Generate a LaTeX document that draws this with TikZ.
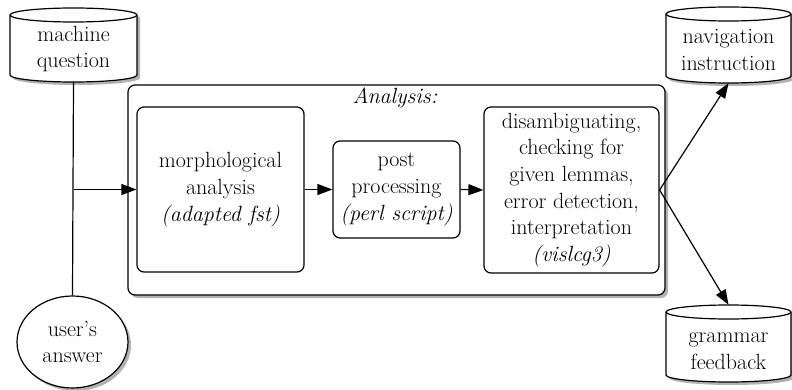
\documentclass[tikz,border=0pt]{standalone}
\usetikzlibrary{shadows,arrows.meta,shapes.geometric}
\newcommand\mycyl[5]{% cx, top centre y, bottom centre y, rx, ry
  \path[cylbody] (#1-#4,#2) -- (#1-#4,#3) arc[start angle=180,end angle=0,x radius=#4,y radius=#5]
     -- (#1+#4,#2) arc[start angle=0,end angle=-180,x radius=#4,y radius=#5] -- cycle;
  \draw[thinline] (#1-#4,#2) arc[start angle=180,end angle=0,x radius=#4,y radius=#5];
}
\tikzset{
  thinline/.style={line width=1.2pt},
  shad/.style={drop shadow={shadow xshift=3pt,shadow yshift=-3pt,opacity=0.3,fill=black}},
  cylbody/.style={thinline,draw,fill=white,shad},
  txt/.style={align=center,inner sep=0pt,font=\fontsize{22}{26.7}\selectfont},
  cyltext/.style={txt,minimum width=125pt,minimum height=66pt},
  procbox/.style={txt,draw,thinline,rounded corners=7pt,fill=white},
  arr/.style={thinline,-{Triangle[length=15pt,width=11pt]}},
}
\begin{document}
\begin{tikzpicture}[x=1pt,y=-1pt]
\useasboundingbox (0,0) rectangle (792,390);
% outer analysis box
\node[draw,thinline,rounded corners=7pt,fill=white,shad,minimum width=537pt,minimum height=210pt,inner sep=0pt] (anl) at (396.5,190) {};
\node[txt,font=\fontsize{22}{26.7}\selectfont\itshape] (anltitle) at (395,98) {Analysis:};
% cylinders
\mycyl{73.5}{15}{75}{63.5}{7}
\node[cyltext] (mq) at (73.5,49) {machine\\question};
\mycyl{728.5}{14}{76}{62.5}{7}
\node[cyltext] (nav) at (728.5,50) {navigation\\instruction};
\mycyl{728.5}{312}{375}{62.5}{7}
\node[cyltext,minimum height=92pt] (gf) at (728.5,351) {grammar\\feedback};
% user's answer
\node[txt,draw,thinline,ellipse,fill=white,shad,minimum width=111pt,minimum height=92pt] (ua) at (72.5,342) {user’s\\answer};
% process boxes
\node[procbox,minimum width=167pt,minimum height=165pt] (morph) at (220.5,189.5) {morphological\\analysis\\\textit{(adapted fst)}};
\node[procbox,minimum width=127pt,minimum height=97pt] (post) at (396.5,189.5) {post\\processing\\\textit{(perl script)}};
\node[procbox,minimum width=175pt,minimum height=166pt] (dis) at (571.5,190) {disambiguating,\\checking for\\given lemmas,\\error detection,\\interpretation\\\textit{(vislcg3)}};
% connectors
\coordinate (br) at (mq.south |- morph.west);
\draw[thinline] (mq.south) -- (ua.north);
\draw[arr] (br) -- (morph.west);
\draw[arr] (morph.east) -- (post.west);
\draw[arr] (post.east) -- (dis.west);
\draw[arr] (dis.east) -- (nav.south);
\draw[arr] (dis.east) -- (gf.north);
\end{tikzpicture}
\end{document}
